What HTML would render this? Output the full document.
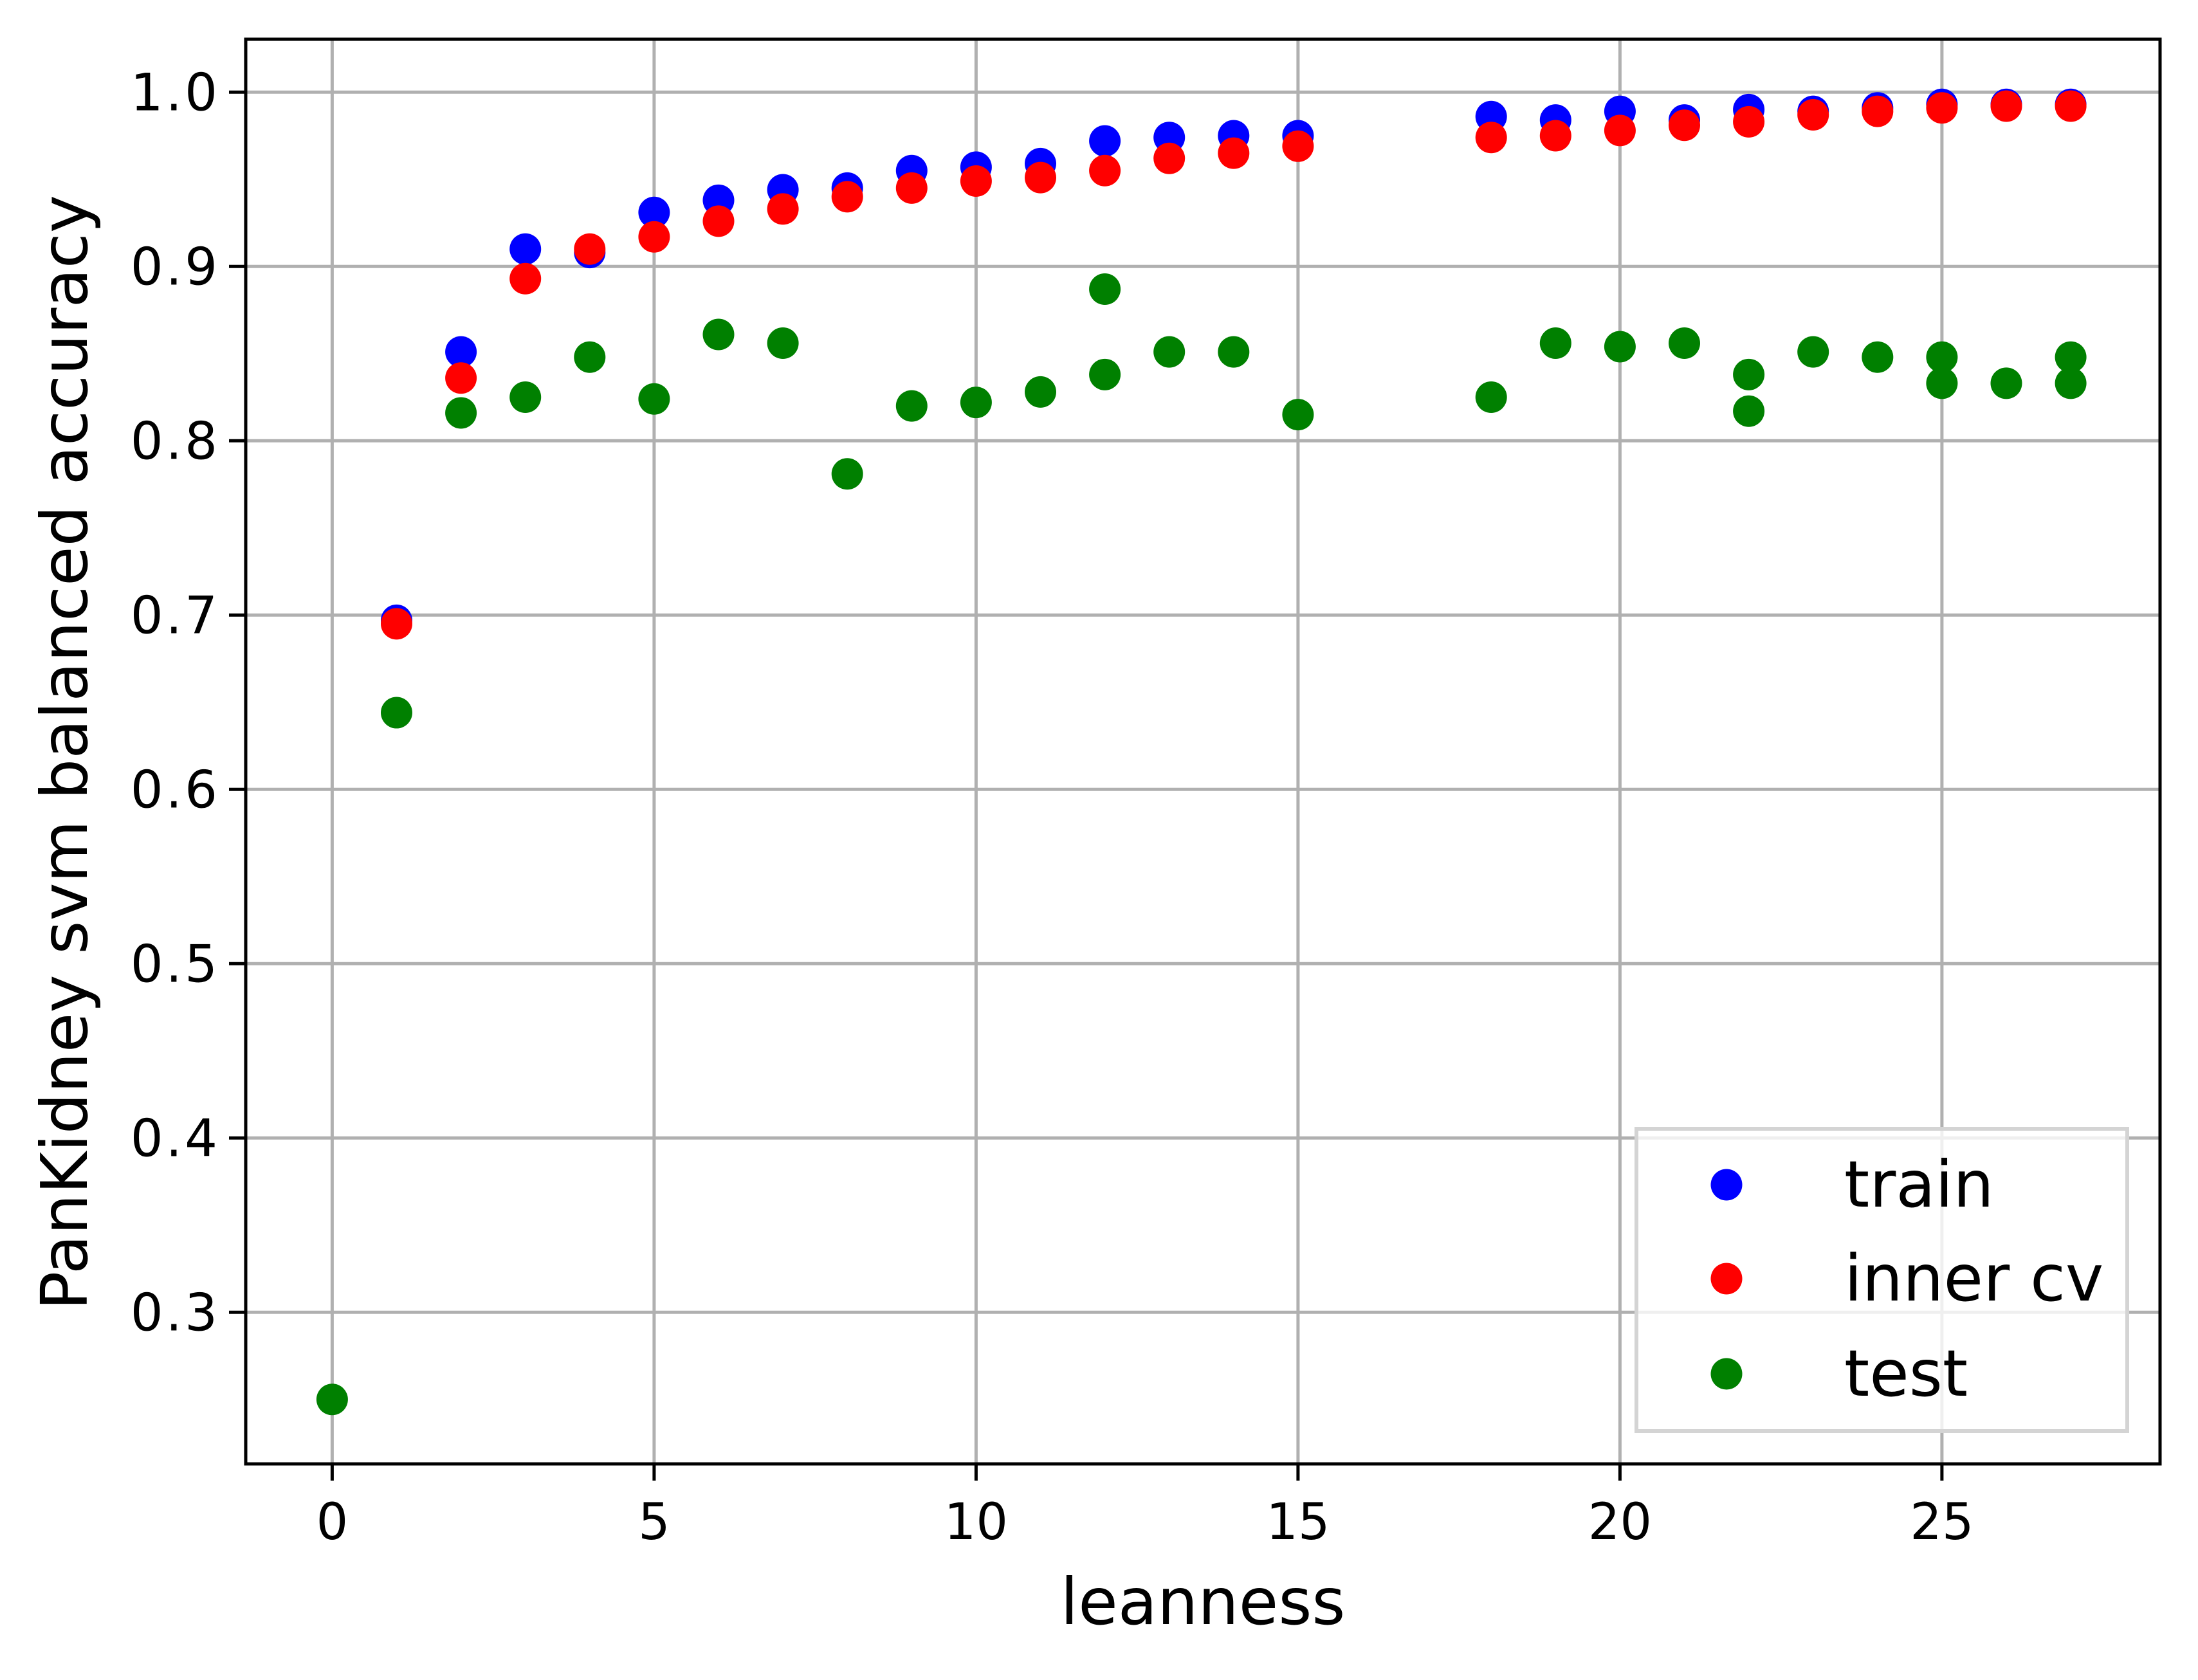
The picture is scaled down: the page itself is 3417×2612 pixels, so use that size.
<!DOCTYPE html>
<html><head><meta charset="utf-8"><style>
html,body{margin:0;padding:0;background:#fff;}
svg text{font-family:"DejaVu Sans","Liberation Sans",sans-serif;}
</style></head><body>
<svg id="chart" width="3417" height="2607" xmlns="http://www.w3.org/2000/svg">
<rect x="0" y="0" width="3417" height="2607" fill="#fff"/>
<g id="grid"></g>
<g id="marks"></g>
<rect x="382" y="61" width="2976" height="2215" fill="none" stroke="#000" stroke-width="5"/>
<g id="ticks"></g>
<text x="1870" y="2525" font-size="100" text-anchor="middle">leanness</text>
<text transform="translate(135,1170) rotate(-90)" font-size="100" text-anchor="middle">PanKidney svm balanced accuracy</text>
<g id="legend">
<rect x="2544" y="1755" width="763" height="470" fill="#fff" fill-opacity="0.8" stroke="#d4d4d4" stroke-width="6"/>
</g>
</svg>
<script>
const trainX=[1,2,3,4,5,6,7,8,9,10,11,12,13,14,15,18,19,20,21,22,23,24,25,26,27];
const trainY=[0.697,0.851,0.910,0.908,0.931,0.938,0.944,0.945,0.955,0.957,0.959,0.972,0.974,0.975,0.975,0.986,0.984,0.989,0.984,0.990,0.989,0.991,0.993,0.993,0.993];
const cvX=[1,2,3,4,5,6,7,8,9,10,11,12,13,14,15,18,19,20,21,22,23,24,25,26,27];
const cvY=[0.695,0.836,0.893,0.910,0.917,0.926,0.933,0.940,0.945,0.949,0.951,0.955,0.962,0.965,0.969,0.974,0.975,0.978,0.981,0.983,0.987,0.989,0.991,0.992,0.992];
const testX=[0,1,2,3,4,5,6,7,8,9,10,11,12,12,13,14,15,18,19,20,21,22,22,23,24,25,25,26,27,27];
const testY=[0.250,0.644,0.816,0.825,0.848,0.824,0.861,0.856,0.781,0.820,0.822,0.828,0.887,0.838,0.851,0.851,0.815,0.825,0.856,0.854,0.856,0.838,0.817,0.851,0.848,0.848,0.833,0.833,0.848,0.833];
const xTicks=[0,5,10,15,20,25];
const yTicks=[0.3,0.4,0.5,0.6,0.7,0.8,0.9,1.0];
const yTickLabels=["0.3","0.4","0.5","0.6","0.7","0.8","0.9","1.0"];
const legendLabels=["train","inner cv","test"];
const colors=["#0000ff","#ff0000","#008000"];

const NS="http://www.w3.org/2000/svg";
const L=382,R=3358,T=61,B=2276;
function sx(v){return 516.4+v*100.1;}
function sy(v){return 143.3+(1.0-v)*2710;}
function mk(tag,attrs,parent){const e=document.createElementNS(NS,tag);for(const k in attrs)e.setAttribute(k,attrs[k]);parent.appendChild(e);return e;}
const grid=document.getElementById('grid'),ticks=document.getElementById('ticks'),marks=document.getElementById('marks'),legend=document.getElementById('legend');
xTicks.forEach(v=>{
  const x=sx(v);
  const g=mk('line',{x1:x,x2:x,y1:T,y2:B,stroke:'#b0b0b0','stroke-width':5},grid);
  
  
  const t=mk('line',{x1:x,x2:x,y1:B,y2:B+26,stroke:'#000','stroke-width':5},ticks);
  
  
  const lb=mk('text',{x:x,y:2393,'font-size':78,'text-anchor':'middle'},ticks);
  lb.textContent=String(v);
  
  
});
yTicks.forEach((v,i)=>{
  const y=sy(v);
  const g=mk('line',{x1:L,x2:R,y1:y,y2:y,stroke:'#b0b0b0','stroke-width':5},grid);
  
  
  const t=mk('line',{x1:L-26,x2:L,y1:y,y2:y,stroke:'#000','stroke-width':5},ticks);
  
  
  const lb=mk('text',{x:L-40,y:y+28,'font-size':80,'text-anchor':'end','letter-spacing':4},ticks);
  lb.textContent=yTickLabels[i];
  
  
});
function series(xs,ys,c,name){
  xs.forEach((x,i)=>{
    const p=mk('circle',{cx:sx(x),cy:sy(ys[i]),r:24.5,fill:c},marks);
    
    
  });
}
series(trainX,trainY,colors[0],'train');
series(cvX,cvY,colors[1],'inner-cv');
series(testX,testY,colors[2],'test');
const ly=[1842,1988,2136];
legendLabels.forEach((s,i)=>{
  const c=mk('circle',{cx:2684,cy:ly[i],r:24.5,fill:colors[i]},legend);
  
  
  const t=mk('text',{x:2867,y:ly[i]+34,'font-size':100},legend);
  t.textContent=s;
  
  
});
</script>
</body></html>
